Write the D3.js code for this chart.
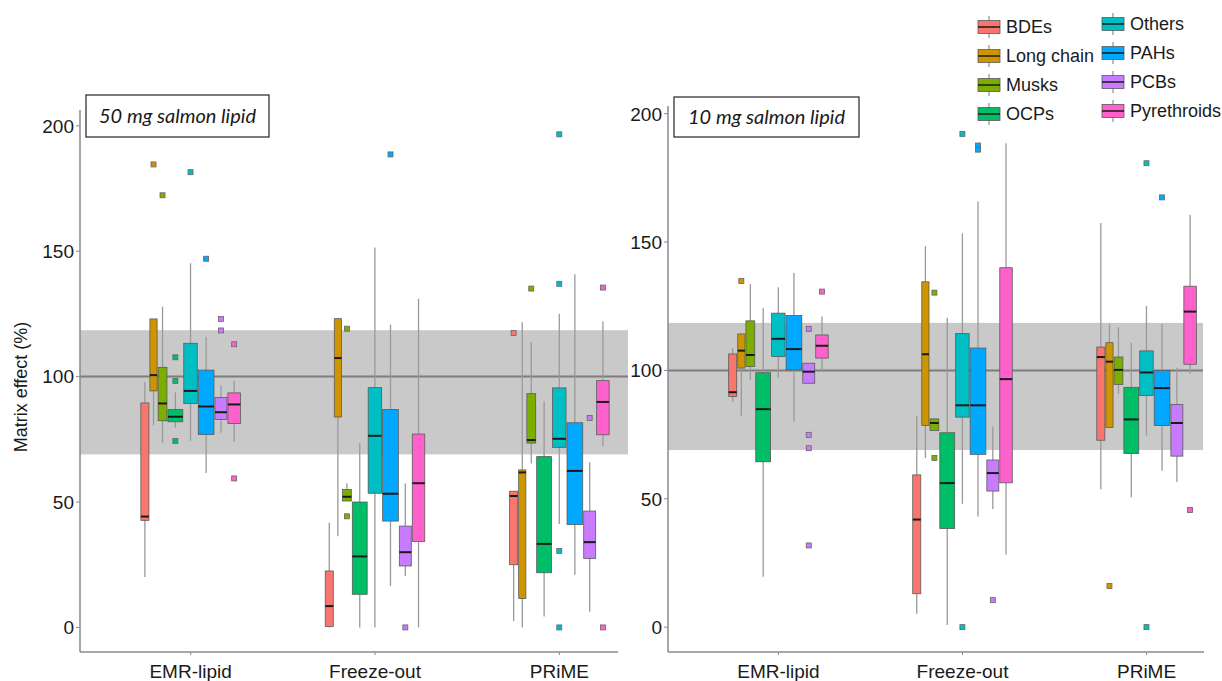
<!DOCTYPE html>
<head>
<meta charset="utf-8">
<style>
  body { margin: 0; background: #fff; }
  svg text { font-family: "Liberation Sans", Arial, sans-serif; fill: #1a1a1a; }
  .title-text { font-family: Lato, "Liberation Sans", sans-serif; font-style: italic; }
</style>
</head>
<body>
<svg width="1222" height="681"></svg>
<script src="https://cdn.jsdelivr.net/npm/d3@7"></script>
<script>

var methods = ["EMR-lipid", "Freeze-out", "PRiME"];
var classes = ["BDEs", "Long chain", "Musks", "OCPs", "Others", "PAHs", "PCBs", "Pyrethroids"];
var classColors = ["#F8766D", "#CD9600", "#7CAE00", "#00BE67", "#00BFC4", "#00A9FF", "#C77CFF", "#FF61CC"];
// box width follows sqrt(number of compounds) (varwidth)
var compoundsPerClass = [5, 4, 6, 17, 14, 19, 11, 12];
var yTicks = [0, 50, 100, 150, 200];
var acceptRange = [69, 118.5];
var panelTitles = ["50 mg salmon lipid", "10 mg salmon lipid"];

// [lower whisker, Q1, median, Q3, upper whisker]; rows = methods, columns = classes
var lipid50 = [
  [[20.1, 42.7, 44.2, 89.5, 97.9], [80.6, 94.3, 100.6, 123.0, 123.0], [73.6, 82.4, 89.3, 103.7, 127.9], [79.7, 82.0, 84.0, 86.9, 93.7],
   [74.4, 89.3, 94.3, 113.3, 145.2], [61.6, 76.9, 88.1, 102.6, 115.9], [77.6, 82.9, 85.8, 91.7, 96.6], [74.0, 81.3, 88.9, 93.5, 98.3]],
  [[0, 0.4, 8.5, 22.5, 41.7], [36.4, 83.9, 107.4, 123.1, 123.1], [50.4, 50.4, 52.1, 55.0, 57.5], [0, 13.2, 28.3, 50.0, 73.5],
   [0, 53.5, 76.4, 95.6, 151.5], [16.5, 42.4, 53.3, 86.9, 120.8], [20.5, 24.5, 30.0, 40.4, 57.4], [0, 34.3, 57.5, 77.1, 131.0]],
  [[2.5, 25.0, 52.4, 54.3, 54.3], [0, 11.5, 61.8, 62.8, 121.7], [65.4, 73.5, 74.7, 93.2, 113.7], [4.4, 21.8, 33.3, 68.1, 90.2],
   [41.2, 71.8, 75.2, 95.5, 125.1], [21.0, 41.0, 62.4, 81.6, 140.8], [6.2, 27.5, 34.0, 46.4, 65.9], [72.1, 76.8, 89.9, 98.4, 122.0]]
];
var outliers50 = [
  ["EMR-lipid", "Long chain", 184.6], ["EMR-lipid", "Musks", 172.3], ["EMR-lipid", "OCPs", 107.7], ["EMR-lipid", "OCPs", 98.3],
  ["EMR-lipid", "OCPs", 74.3], ["EMR-lipid", "Others", 181.5], ["EMR-lipid", "PAHs", 147.0], ["EMR-lipid", "PCBs", 123.0],
  ["EMR-lipid", "PCBs", 118.4], ["EMR-lipid", "Pyrethroids", 112.9], ["EMR-lipid", "Pyrethroids", 59.4],
  ["Freeze-out", "Musks", 119.1], ["Freeze-out", "Musks", 44.3], ["Freeze-out", "PAHs", 188.6], ["Freeze-out", "PCBs", 0],
  ["PRiME", "BDEs", 117.4], ["PRiME", "Musks", 135.1], ["PRiME", "Others", 196.6], ["PRiME", "Others", 137.0],
  ["PRiME", "Others", 30.5], ["PRiME", "Others", 0], ["PRiME", "PCBs", 83.5], ["PRiME", "Pyrethroids", 135.5], ["PRiME", "Pyrethroids", 0]
];

var lipid10 = [
  [[87.8, 89.8, 91.5, 106.4, 108.7], [82.3, 100.9, 107.7, 114.2, 114.2], [96.3, 101.5, 106.0, 119.3, 133.7], [19.6, 64.4, 84.9, 99.1, 124.2],
   [97.0, 105.4, 112.3, 122.3, 132.4], [80.0, 100.2, 108.3, 121.4, 137.9], [95.0, 95.0, 99.5, 102.8, 102.8], [99.9, 104.8, 109.6, 113.8, 121.0]],
  [[5.2, 13.0, 41.9, 59.3, 82.2], [65.8, 78.5, 106.3, 134.5, 148.4], [76.6, 76.6, 79.5, 81.1, 81.1], [0.8, 38.4, 56.1, 75.7, 120.5],
   [48.1, 81.8, 86.4, 114.4, 153.3], [43.1, 67.3, 86.4, 108.7, 165.8], [46.0, 53.0, 60.0, 65.1, 78.1], [28.3, 56.2, 96.6, 140.0, 188.5]],
  [[53.7, 72.8, 105.2, 109.1, 157.4], [77.8, 77.8, 103.4, 110.8, 118.2], [90.9, 94.5, 100.2, 105.2, 116.8], [50.6, 67.6, 80.9, 93.4, 110.8],
   [74.6, 90.2, 99.2, 107.6, 125.1], [60.9, 78.5, 93.1, 100.0, 118.2], [56.5, 66.6, 79.5, 86.7, 101.0], [98.7, 102.4, 122.9, 132.8, 160.6]]
];
var outliers10 = [
  ["EMR-lipid", "Long chain", 134.8], ["EMR-lipid", "PCBs", 116.2], ["EMR-lipid", "PCBs", 74.9], ["EMR-lipid", "PCBs", 69.7],
  ["EMR-lipid", "PCBs", 31.8], ["EMR-lipid", "Pyrethroids", 130.7],
  ["Freeze-out", "Musks", 130.3], ["Freeze-out", "Musks", 65.9], ["Freeze-out", "Others", 192.1], ["Freeze-out", "Others", 0],
  ["Freeze-out", "PAHs", 187.6], ["Freeze-out", "PAHs", 186.0], ["Freeze-out", "PCBs", 10.5],
  ["PRiME", "Long chain", 16.0], ["PRiME", "Others", 180.7], ["PRiME", "Others", 0], ["PRiME", "PAHs", 167.4], ["PRiME", "Pyrethroids", 45.6]
];

var svg = d3.select("svg");
var widthScale = d3.scaleSqrt().domain([0, d3.max(compoundsPerClass)]).range([0, 15.7]);
var color = d3.scaleOrdinal().domain(classes).range(classColors);
var GAP = 1;

// x offsets of the dodged boxes around a group centre
var boxW = compoundsPerClass.map(function(n) { return widthScale(n); });
var groupW = d3.sum(boxW) + GAP * (boxW.length - 1);
var boxOffset = [];
boxW.reduce(function(acc, w, i) { boxOffset[i] = acc + w / 2 - groupW / 2; return acc + w + GAP; }, 0);

function drawPanel(p) {
  var x = d3.scaleLinear().domain([0.4, 3.6]).range(p.xRange);
  var y = d3.scaleLinear().domain(p.yDomain).range(p.yRange);
  var g = svg.append("g");
  var cx = function(mi, ci) { return x(mi + 1) + boxOffset[ci]; };

  // acceptance band + 100 % line
  g.append("rect")
      .attr("x", p.xRange[0]).attr("width", p.bandEnd - p.xRange[0])
      .attr("y", y(acceptRange[1])).attr("height", y(acceptRange[0]) - y(acceptRange[1]))
      .attr("fill", "#c9c9c9");
  g.append("line")
      .attr("x1", p.xRange[0]).attr("x2", p.bandEnd)
      .attr("y1", y(100)).attr("y2", y(100))
      .attr("stroke", "#7d7d7d").attr("stroke-width", 2);

  // axes
  g.append("line").attr("x1", p.xRange[0]).attr("x2", p.xRange[0])
      .attr("y1", p.yRange[0]).attr("y2", p.yRange[1])
      .attr("stroke", "#8a8a8a").attr("stroke-width", 1.5);
  g.append("line").attr("x1", p.xRange[0]).attr("x2", p.axisEnd)
      .attr("y1", p.yRange[0]).attr("y2", p.yRange[0])
      .attr("stroke", "#8a8a8a").attr("stroke-width", 1.5);

  g.selectAll(".ytick").data(yTicks).enter().append("line")
      .attr("x1", p.xRange[0] - 4).attr("x2", p.xRange[0])
      .attr("y1", function(d) { return y(d); }).attr("y2", function(d) { return y(d); })
      .attr("stroke", "#8a8a8a");
  g.selectAll(".ylab").data(yTicks).enter().append("text")
      .attr("x", p.xRange[0] - 6).attr("y", function(d) { return y(d); })
      .attr("dy", "0.36em").attr("text-anchor", "end")
      .style("font-size", "19px").text(function(d) { return d; });

  g.selectAll(".xtick").data(methods).enter().append("line")
      .attr("x1", function(d, i) { return x(i + 1); }).attr("x2", function(d, i) { return x(i + 1); })
      .attr("y1", p.yRange[0]).attr("y2", p.yRange[0] + 3)
      .attr("stroke", "#8a8a8a");
  g.selectAll(".xlab").data(methods).enter().append("text")
      .attr("x", function(d, i) { return x(i + 1); }).attr("y", p.yRange[0] + 26)
      .attr("text-anchor", "middle").style("font-size", "19px").text(function(d) { return d; });

  // boxes
  var boxes = [];
  p.stats.forEach(function(row, mi) {
    row.forEach(function(s, ci) { boxes.push({ mi: mi, ci: ci, s: s }); });
  });

  var b = g.selectAll(".box").data(boxes).enter().append("g");
  b.append("line")
      .attr("x1", function(d) { return cx(d.mi, d.ci); }).attr("x2", function(d) { return cx(d.mi, d.ci); })
      .attr("y1", function(d) { return y(d.s[0]); }).attr("y2", function(d) { return y(d.s[4]); })
      .attr("stroke", "#9a9a9a").attr("stroke-width", 1.3);
  b.append("rect")
      .attr("x", function(d) { return cx(d.mi, d.ci) - boxW[d.ci] / 2; })
      .attr("width", function(d) { return boxW[d.ci]; })
      .attr("y", function(d) { return y(d.s[3]); })
      .attr("height", function(d) { return Math.max(1, y(d.s[1]) - y(d.s[3])); })
      .attr("fill", function(d) { return classColors[d.ci]; })
      .attr("stroke", "#5a5a5a").attr("stroke-width", 0.8);
  b.append("line")
      .attr("x1", function(d) { return cx(d.mi, d.ci) - boxW[d.ci] / 2; })
      .attr("x2", function(d) { return cx(d.mi, d.ci) + boxW[d.ci] / 2; })
      .attr("y1", function(d) { return y(d.s[2]); }).attr("y2", function(d) { return y(d.s[2]); })
      .attr("stroke", "#1a1a1a").attr("stroke-width", 2);

  // outliers (small squares)
  g.selectAll(".out").data(p.outliers).enter().append("rect")
      .attr("x", function(d) { return cx(methods.indexOf(d[0]), classes.indexOf(d[1])) - 2.5; })
      .attr("y", function(d) { return y(d[2]) - 2.5; })
      .attr("width", 5).attr("height", 5)
      .attr("fill", function(d) { return color(d[1]); })
      .attr("stroke", "#666").attr("stroke-width", 0.8);

  // panel label box
  g.append("rect")
      .attr("x", p.titleBox[0]).attr("y", p.titleBox[1])
      .attr("width", p.titleBox[2]).attr("height", p.titleBox[3])
      .attr("fill", "#fff").attr("stroke", "#222").attr("stroke-width", 1.2);
  g.append("text").attr("class", "title-text")
      .attr("x", p.titleBox[0] + p.titleBox[2] / 2).attr("y", p.titleBox[1] + p.titleBox[3] / 2)
      .attr("dy", "0.35em").attr("text-anchor", "middle")
      .style("font-size", "20px").text(p.title);
}

drawPanel({
  xRange: [80, 670], bandEnd: 628, axisEnd: 618,
  yDomain: [-9.8, 206.3], yRange: [652, 110],
  stats: lipid50, outliers: outliers50,
  title: panelTitles[0], titleBox: [86, 95, 183, 42]
});
drawPanel({
  xRange: [668, 1257], bandEnd: 1203, axisEnd: 1204,
  yDomain: [-9.7, 203], yRange: [652, 106],
  stats: lipid10, outliers: outliers10,
  title: panelTitles[1], titleBox: [674, 97, 185, 40]
});

// y title
svg.append("text")
    .attr("transform", "translate(27,387) rotate(-90)")
    .attr("text-anchor", "middle")
    .style("font-size", "18px")
    .text("Matrix effect (%)");

// legend, two columns of four
var legend = svg.append("g").selectAll("g").data(classes).enter().append("g")
    .attr("transform", function(d, i) {
      var col = Math.floor(i / 4), row = i % 4;
      return "translate(" + (978 + col * 124) + "," + (27 - col * 3 + row * 29) + ")";
    });
legend.append("line").attr("x1", 11).attr("x2", 11).attr("y1", -11).attr("y2", 11)
    .attr("stroke", "#9a9a9a").attr("stroke-width", 1.3);
legend.append("rect").attr("x", 0).attr("y", -6.5).attr("width", 22).attr("height", 13)
    .attr("fill", function(d) { return color(d); }).attr("stroke", "#5a5a5a").attr("stroke-width", 0.8);
legend.append("line").attr("x1", 0).attr("x2", 22).attr("y1", 0).attr("y2", 0)
    .attr("stroke", "#1a1a1a").attr("stroke-width", 1.5);
legend.append("text").attr("x", 28).attr("dy", "0.36em")
    .style("font-size", "18px").text(function(d) { return d; });

</script>
</body>
